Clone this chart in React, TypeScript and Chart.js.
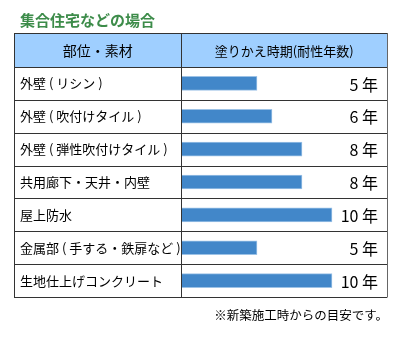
import { useEffect, useRef } from 'react';
import { Chart, registerables } from 'chart.js';
Chart.register(...registerables);

const TITLE = '集合住宅などの場合';
const HEADER_LEFT = '部位・素材';
const HEADER_RIGHT = '塗りかえ時期(耐性年数)';
const NOTE = '※新築施工時からの目安です。';
const UNIT = '年';
const categories = [
  '外壁 ( リシン )',
  '外壁 ( 吹付けタイル )',
  '外壁 ( 弾性吹付けタイル )',
  '共用廊下・天井・内壁',
  '屋上防水',
  '金属部 ( 手する・鉄扉など )',
  '生地仕上げコンクリート',
];
const years = [5, 6, 8, 8, 10, 5, 10];
const xMax = 12;

const FONT = '"Noto Sans CJK JP", "Noto Sans", sans-serif';
const TABLE_LEFT = 14;
const TABLE_RIGHT = 387;
const TABLE_TOP = 33;
const DIVIDER = 181.5;

const tablePlugin = {
  id: 'tablePlugin',
  beforeDraw(chart: any) {
    const { ctx, chartArea } = chart;
    ctx.save();
    ctx.fillStyle = '#ffffff';
    ctx.fillRect(0, 0, chart.width, chart.height);
    ctx.fillStyle = '#9fcfff';
    ctx.fillRect(TABLE_LEFT, TABLE_TOP, TABLE_RIGHT - TABLE_LEFT, chartArea.top - TABLE_TOP);
    ctx.fillStyle = '#3d8c4a';
    ctx.font = `bold 15px ${FONT}`;
    ctx.textAlign = 'left';
    ctx.textBaseline = 'middle';
    ctx.fillText(TITLE, 20, 20);
    ctx.restore();
  },
  afterDraw(chart: any) {
    const { ctx, chartArea } = chart;
    const y = chart.scales.y;
    ctx.save();
    ctx.strokeStyle = '#333333';
    ctx.lineWidth = 1;
    const lines: number[] = [TABLE_TOP, chartArea.top];
    for (let i = 0; i < categories.length - 1; i++) {
      lines.push((y.getPixelForValue(i) + y.getPixelForValue(i + 1)) / 2);
    }
    lines.push(chartArea.bottom);
    ctx.beginPath();
    for (const ly of lines) {
      const yy = Math.round(ly) + 0.5;
      ctx.moveTo(TABLE_LEFT, yy);
      ctx.lineTo(TABLE_RIGHT, yy);
    }
    const bottom = Math.round(chartArea.bottom) + 0.5;
    ctx.moveTo(TABLE_LEFT + 0.5, TABLE_TOP);
    ctx.lineTo(TABLE_LEFT + 0.5, bottom);
    ctx.moveTo(DIVIDER, TABLE_TOP);
    ctx.lineTo(DIVIDER, bottom);
    ctx.stroke();
    ctx.strokeStyle = '#666666';
    ctx.beginPath();
    ctx.moveTo(TABLE_RIGHT + 0.5, TABLE_TOP);
    ctx.lineTo(TABLE_RIGHT + 0.5, bottom);
    ctx.stroke();

    ctx.fillStyle = '#000000';
    ctx.textBaseline = 'middle';
    ctx.textAlign = 'center';
    const hy = (TABLE_TOP + chartArea.top) / 2 + 1;
    ctx.font = `14px ${FONT}`;
    ctx.fillText(HEADER_LEFT, (TABLE_LEFT + DIVIDER) / 2, hy);
    ctx.font = `13px ${FONT}`;
    ctx.fillText(HEADER_RIGHT, (DIVIDER + TABLE_RIGHT) / 2, hy);

    ctx.textAlign = 'right';
    ctx.font = `16px ${FONT}`;
    years.forEach((v, i) => {
      ctx.fillText(`${v} ${UNIT}`, 378, y.getPixelForValue(i) + 1);
    });

    ctx.font = `12.5px ${FONT}`;
    ctx.fillText(NOTE, 388, 315);
    ctx.restore();
  },
};

export default function App() {
  const ref = useRef<HTMLCanvasElement | null>(null);
  useEffect(() => {
    document.body.style.margin = '0';
    const chart = new Chart(ref.current as HTMLCanvasElement, {
      type: 'bar',
      data: {
        labels: categories,
        datasets: [
          {
            data: years,
            backgroundColor: '#4287c9',
            borderColor: '#9cc2e6',
            borderWidth: 1,
            borderSkipped: 'left',
            barThickness: 14,
          },
        ],
      },
      options: {
        indexAxis: 'y',
        animation: false,
        responsive: false,
        layout: { padding: { left: 20, right: 40, top: 67, bottom: 49 } },
        plugins: { legend: { display: false }, tooltip: { enabled: false }, title: { display: false } },
        scales: {
          x: { display: false, min: 0, max: xMax },
          y: {
            grid: { display: false },
            border: { display: false },
            ticks: {
              crossAlign: 'far',
              color: '#000000',
              font: { family: FONT, size: 13 },
            },
            afterFit(scale: any) {
              scale.width = 162;
            },
          },
        },
      },
      plugins: [tablePlugin],
    });
    return () => chart.destroy();
  }, []);
  return (
    <div style={{ position: 'absolute', left: 0, top: 0, width: 402, height: 346 }}>
      <canvas ref={ref} width={402} height={346} style={{ width: 402, height: 346 }} />
    </div>
  );
}
